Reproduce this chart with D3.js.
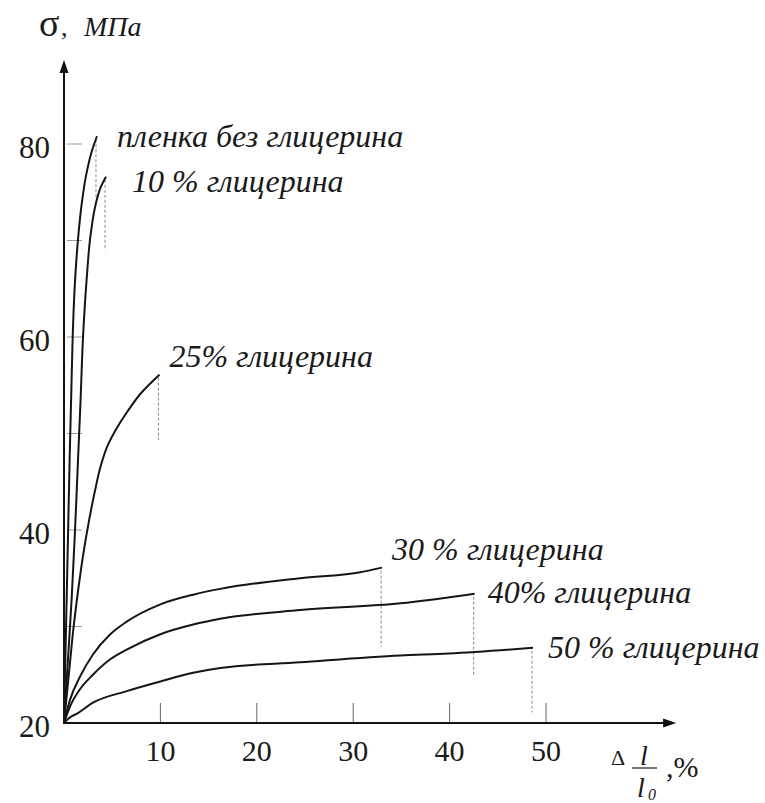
<!DOCTYPE html>
<html>
<head>
<meta charset="utf-8">
<script src="https://cdnjs.cloudflare.com/ajax/libs/d3/7.8.5/d3.min.js"></script>
</head>
<body style="margin:0">
<div id="chart" style="position:relative;width:765px;height:803px"></div>
<script>
// strain-stress curves of the film with different glycerol content
var seriesNames = ["пленка без глицерина", "10 % глицерина", "25% глицерина",
                   "30 % глицерина", "40% глицерина", "50 % глицерина"];

// strain, % and stress, MPa
var strain0  = [0, 0.15, 0.3, 0.45, 0.6, 0.75, 0.9, 1.1, 1.4, 1.8, 2.3, 2.9, 3.42];
var stress0  = [20, 27, 34, 41, 48, 54, 60, 65, 69.5, 73.5, 76.8, 79.3, 80.8];
var strain10 = [0, 0.25, 0.5, 0.8, 1.1, 1.4, 1.7, 2.0, 2.35, 2.75, 3.3, 3.8, 4.36];
var stress10 = [20, 24, 28, 33, 39, 46, 53, 60.5, 66, 70.5, 73.8, 75.5, 76.6];
var strain25 = [0, 0.5, 1.0, 1.5, 2.0, 2.6, 3.2, 3.8, 4.5, 5.5, 6.6, 8.0, 9.9];
var stress25 = [20, 25, 30, 34, 37.5, 41, 44, 46.6, 48.7, 50.6, 52.3, 54.2, 56.1];
var strain30 = [0, 0.62, 1.66, 3.0, 4.8, 6.5, 10, 13.4, 16.2, 24.5, 30.6, 33];
var stress30 = [20, 22.4, 24.8, 27.1, 29.2, 30.5, 32.3, 33.3, 33.9, 35.0, 35.6, 36.1];
var strain40 = [0, 0.62, 1.66, 3.0, 4.8, 6.5, 10, 13.4, 16.2, 24.5, 34.9, 42.6];
var stress40 = [20, 21.7, 23.5, 25.0, 26.6, 27.6, 29.2, 30.2, 30.8, 31.7, 32.4, 33.4];
var strain50 = [0, 0.5, 1.4, 3.0, 6.5, 10, 13.4, 16.2, 24.5, 34.9, 39.9, 48.65];
var stress50 = [20, 20.5, 21.0, 22.1, 23.3, 24.3, 25.2, 25.7, 26.3, 27.0, 27.2, 27.8];

// lower end of the dashed drop line under each curve end, MPa
var dropTo = [74.5, 69.0, 49.3, 27.9, 25.0, 21.1];

var xTicks = [10, 20, 30, 40, 50];
var yTickLabels = [20, 40, 60, 80];
var yMinorTicks = [30, 40, 50, 60, 70, 80];

var strains = [strain0, strain10, strain25, strain30, strain40, strain50];
var stresses = [stress0, stress10, stress25, stress30, stress40, stress50];

// layout: label offsets from the curve end (px) and curve smoothing
var labelDx = [20, 26, 10, 10, 13, 15];
var labelDy = [11, 15, -8, -8, 9, 10];
var curveTypes = [d3.curveMonotoneY, d3.curveMonotoneY, d3.curveMonotoneY,
                  d3.curveMonotoneX, d3.curveMonotoneX, d3.curveMonotoneX];

var chartW = 765, chartH = 803;
var fontName = "Liberation Serif";
var ink = "#1a1a1a";

var holder = d3.select("#chart");

// marks go into one svg, texts into a second svg laid on top
var svg = holder.append("svg")
  .attr("width", chartW)
  .attr("height", chartH)
  .style("position", "absolute")
  .style("left", "0px")
  .style("top", "0px");

var tsvg = holder.append("svg")
  .attr("width", chartW)
  .attr("height", chartH)
  .style("position", "absolute")
  .style("left", "0px")
  .style("top", "0px");

var xs = d3.scaleLinear().domain([0, 50]).range([64, 546]);
var ys = d3.scaleLinear().domain([20, 80]).range([723, 144]);

var series = seriesNames.map((name, i) => ({
  name: name,
  points: strains[i].map((s, j) => [s, stresses[i][j]]),
  drop: dropTo[i],
  dx: labelDx[i],
  dy: labelDy[i],
  curve: curveTypes[i]
}));
var lastPt = d => d.points[d.points.length - 1];

// dashed drop lines
svg.selectAll("line.drop")
  .data(series)
  .enter()
  .append("line")
  .attr("class", "drop")
  .attr("x1", d => xs(lastPt(d)[0]) - 1)
  .attr("x2", d => xs(lastPt(d)[0]) - 1)
  .attr("y1", d => ys(lastPt(d)[1]) + 3)
  .attr("y2", d => ys(d.drop))
  .style("stroke", "#8a8a8a")
  .style("stroke-width", 1)
  .style("stroke-dasharray", "3,2");

// short grey ticks on the stress axis
svg.selectAll("line.ytick")
  .data(yMinorTicks)
  .enter()
  .append("line")
  .attr("class", "ytick")
  .attr("x1", xs(0) + 3)
  .attr("x2", xs(0) + 18)
  .attr("y1", d => ys(d))
  .attr("y2", d => ys(d))
  .style("stroke", "#9a9a9a")
  .style("stroke-width", 1);

// strain axis ticks
svg.selectAll("line.xtick")
  .data(xTicks)
  .enter()
  .append("line")
  .attr("class", "xtick")
  .attr("x1", d => xs(d))
  .attr("x2", d => xs(d))
  .attr("y1", ys(20))
  .attr("y2", ys(20) - 20)
  .style("stroke", "#666")
  .style("stroke-width", 1);

// axis lines with arrows
var xEnd = xs(63.5), yEnd = ys(88.7);
svg.append("line")
  .attr("x1", xs(0)).attr("x2", xEnd - 6)
  .attr("y1", ys(20)).attr("y2", ys(20))
  .style("stroke", "#111").style("stroke-width", 2);
svg.append("line")
  .attr("x1", xs(0)).attr("x2", xs(0))
  .attr("y1", ys(20) + 1).attr("y2", yEnd + 6)
  .style("stroke", "#111").style("stroke-width", 2);
svg.append("path")
  .attr("d", `M${xEnd},${ys(20)} L${xEnd - 13},${ys(20) - 4.5} L${xEnd - 13},${ys(20) + 4.5} Z`)
  .style("fill", "#111");
svg.append("path")
  .attr("d", `M${xs(0)},${yEnd} L${xs(0) - 4.5},${yEnd + 13} L${xs(0) + 4.5},${yEnd + 13} Z`)
  .style("fill", "#111");

// fraction bar of the strain label
svg.append("line")
  .attr("x1", 632).attr("x2", 657).attr("y1", 768).attr("y2", 768)
  .style("stroke", ink).style("stroke-width", 1.2);

// curves
svg.selectAll("path.curve")
  .data(series)
  .enter()
  .append("path")
  .attr("class", "curve")
  .attr("d", d => d3.line()
    .x(p => xs(p[0]))
    .y(p => ys(p[1]))
    .curve(d.curve)(d.points))
  .style("fill", "none")
  .style("stroke", "#151515")
  .style("stroke-width", 2)
  .style("stroke-linejoin", "round");

// ---- texts ----
function addText(tx, ty, size, italic, str) {
  return tsvg.append("text")
    .attr("x", tx)
    .attr("y", ty)
    .style("font-family", fontName)
    .style("font-style", italic ? "italic" : "normal")
    .style("font-size", size + "px")
    .style("fill", ink)
    .text(str);
}

tsvg.selectAll("text.label")
  .data(series)
  .enter()
  .append("text")
  .attr("class", "label")
  .attr("x", d => xs(lastPt(d)[0]) + d.dx)
  .attr("y", d => ys(lastPt(d)[1]) + d.dy)
  .style("font-family", fontName)
  .style("font-style", "italic")
  .style("font-size", "32px")
  .style("fill", ink)
  .text(d => d.name);

// tick labels (two digits, about 30px wide -> shift by half)
tsvg.selectAll("text.xlab")
  .data(xTicks)
  .enter()
  .append("text")
  .attr("class", "xlab")
  .attr("x", d => xs(d) - 15)
  .attr("y", ys(20) + 38)
  .style("font-family", fontName)
  .style("font-size", "30px")
  .style("fill", ink)
  .text(d => d);

tsvg.selectAll("text.ylab")
  .data(yTickLabels)
  .enter()
  .append("text")
  .attr("class", "ylab")
  .attr("x", xs(0) - 45)
  .attr("y", d => ys(d) + 14)
  .style("font-family", fontName)
  .style("font-size", "31px")
  .style("fill", ink)
  .text(d => d);

// stress axis title
addText(39, 36, 38, false, "σ");
addText(61, 36, 26, false, ",");
addText(84, 36, 28, true, "МПа");

// strain axis title: Δl / l0, %
addText(611, 765, 22, false, "Δ");
addText(640, 765, 28, true, "l");
addText(637, 797, 28, true, "l");
addText(648, 800, 16, true, "0");
addText(666, 777, 30, false, ",%");
</script>
</body>
</html>
